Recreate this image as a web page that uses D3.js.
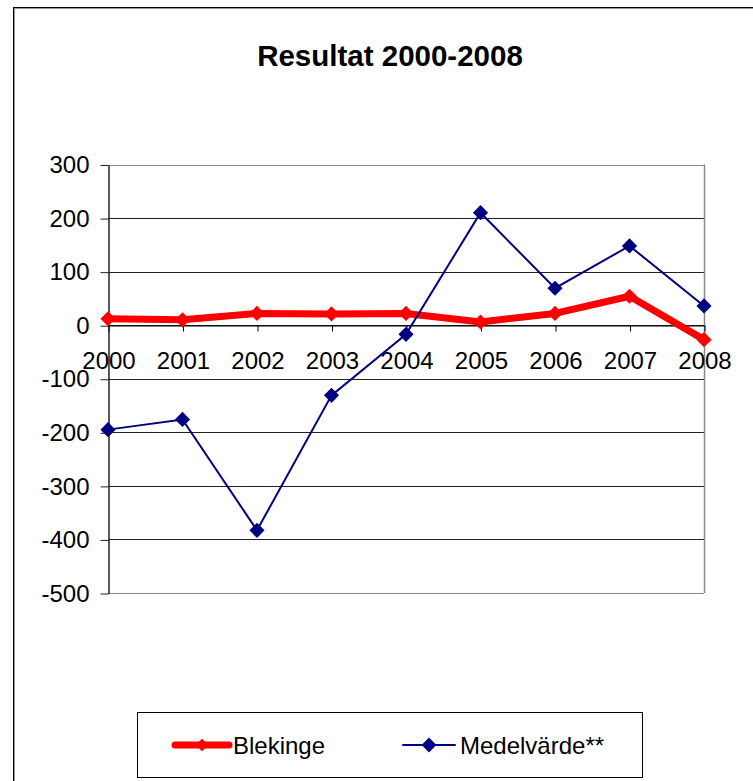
<!DOCTYPE html>
<html>
<head>
<meta charset="utf-8">
<script src="https://cdn.jsdelivr.net/npm/d3@7"></script>
<style>
  body { margin: 0; background: #fff; }
  text { font-family: Arial, "Liberation Sans", sans-serif; }
</style>
</head>
<body>
<div class="canvas"></div>
<script>
// data
const years = ['2000', '2001', '2002', '2003', '2004', '2005', '2006', '2007', '2008'];
const blekinge = [12, 10, 22, 21, 22, 6, 22, 54, -27];
const medelvarde = [-195, -176, -383, -131, -17, 210, 69, 148, 36];
const yTicks = [300, 200, 100, 0, -100, -200, -300, -400, -500];

const dims = { width: 753, height: 781 };
const plot = { left: 108, right: 704, top: 164.5, bottom: 593 };

const svg = d3.select('.canvas')
    .append('svg')
    .attr('width', dims.width)
    .attr('height', dims.height);

// yttre ram
svg.append('rect')
    .attr('x', 14.5).attr('y', 8.5)
    .attr('width', 760).attr('height', 800)
    .attr('fill', 'none')
    .attr('stroke', '#999')
    .attr('stroke-width', 1);
svg.append('rect')
    .attr('x', 13.5).attr('y', 7.5)
    .attr('width', 760).attr('height', 800)
    .attr('fill', 'none')
    .attr('stroke', '#000')
    .attr('stroke-width', 1);

// titel
svg.append('text')
    .attr('x', 390).attr('y', 66)
    .attr('text-anchor', 'middle')
    .attr('font-size', '29.5px')
    .attr('font-weight', 'bold')
    .text('Resultat 2000-2008');

const x = d3.scalePoint()
    .domain(years)
    .range([plot.left, plot.right]);

const y = d3.scaleLinear()
    .domain([-500, 300])
    .range([plot.bottom, plot.top]);

// rutnät
svg.append('g')
    .selectAll('line')
    .data(yTicks)
    .enter()
    .append('line')
    .attr('x1', plot.left).attr('x2', plot.right)
    .attr('y1', d => Math.round(y(d)) + 0.5)
    .attr('y2', d => Math.round(y(d)) + 0.5)
    .attr('stroke', d => (d === 300 || d === -500) ? '#888' : '#222')
    .attr('stroke-width', 1);

// höger kant
svg.append('line')
    .attr('x1', plot.right + 0.5).attr('x2', plot.right + 0.5)
    .attr('y1', plot.top).attr('y2', plot.bottom)
    .attr('stroke', '#888')
    .attr('stroke-width', 1.5);

// y-axel (vanligt bindestreck som minustecken)
const yAxis = svg.append('g')
    .attr('transform', `translate(${plot.left + 0.5}, 0.5)`)
    .call(d3.axisLeft(y).tickValues(yTicks).tickFormat(d => String(d))
        .tickSize(8).tickSizeOuter(0).tickPadding(11));
yAxis.select('.domain').attr('stroke', '#222').attr('stroke-width', 1.5);
yAxis.selectAll('.tick line').attr('stroke', '#222');
yAxis.selectAll('text')
    .attr('font-size', '24px')
    .attr('font-family', 'Arial, "Liberation Sans", sans-serif')
    .attr('fill', '#000');

// x-axel vid noll
const xAxis = svg.append('g')
    .attr('transform', `translate(0.5, ${Math.round(y(0)) + 0.5})`)
    .call(d3.axisBottom(x).tickSize(6).tickSizeOuter(0).tickPadding(20));
xAxis.select('.domain').attr('stroke', '#000');
xAxis.selectAll('.tick line').attr('stroke', '#000');
xAxis.selectAll('text')
    .attr('font-size', '24px')
    .attr('font-family', 'Arial, "Liberation Sans", sans-serif')
    .attr('fill', '#000');

const line = d3.line()
    .x((d, i) => x(years[i]))
    .y(d => y(d));

// romb = kvadrat vriden 45 grader
const diamond = d3.symbol().type(d3.symbolSquare);

// Blekinge
svg.append('path')
    .datum(blekinge)
    .attr('d', line)
    .attr('fill', 'none')
    .attr('stroke', '#ff0000')
    .attr('stroke-width', 7)
    .attr('stroke-linejoin', 'round');
svg.append('g')
    .selectAll('path')
    .data(blekinge)
    .enter()
    .append('path')
    .attr('transform', (d, i) => `translate(${x(years[i])}, ${y(d)}) rotate(45)`)
    .attr('d', diamond.size(115))
    .attr('fill', '#ff0000');

// Medelvärde
svg.append('path')
    .datum(medelvarde)
    .attr('d', line)
    .attr('fill', 'none')
    .attr('stroke', '#000080')
    .attr('stroke-width', 2);
svg.append('g')
    .selectAll('path')
    .data(medelvarde)
    .enter()
    .append('path')
    .attr('transform', (d, i) => `translate(${x(years[i])}, ${y(d)}) rotate(45)`)
    .attr('d', diamond.size(115))
    .attr('fill', '#000080');

// legend
const legend = svg.append('g');
legend.append('rect')
    .attr('x', 137.5).attr('y', 712.5)
    .attr('width', 505).attr('height', 65)
    .attr('fill', '#fff')
    .attr('stroke', '#000');

const items = [
    { name: 'Blekinge', color: '#ff0000', width: 7, x1: 175, x2: 229, tx: 233, size: 80 },
    { name: 'Medelvärde**', color: '#000080', width: 2, x1: 403, x2: 455, tx: 460, size: 110 }
];
items.forEach(it => {
    legend.append('line')
        .attr('x1', it.x1).attr('x2', it.x2)
        .attr('y1', 745).attr('y2', 745)
        .attr('stroke', it.color)
        .attr('stroke-width', it.width)
        .attr('stroke-linecap', 'round');
    legend.append('path')
        .attr('transform', `translate(${(it.x1 + it.x2) / 2}, 745) rotate(45)`)
        .attr('d', diamond.size(it.size))
        .attr('fill', it.color);
    legend.append('text')
        .attr('x', it.tx).attr('y', 754)
        .attr('font-size', '24px')
        .text(it.name);
});
</script>
</body>
</html>
